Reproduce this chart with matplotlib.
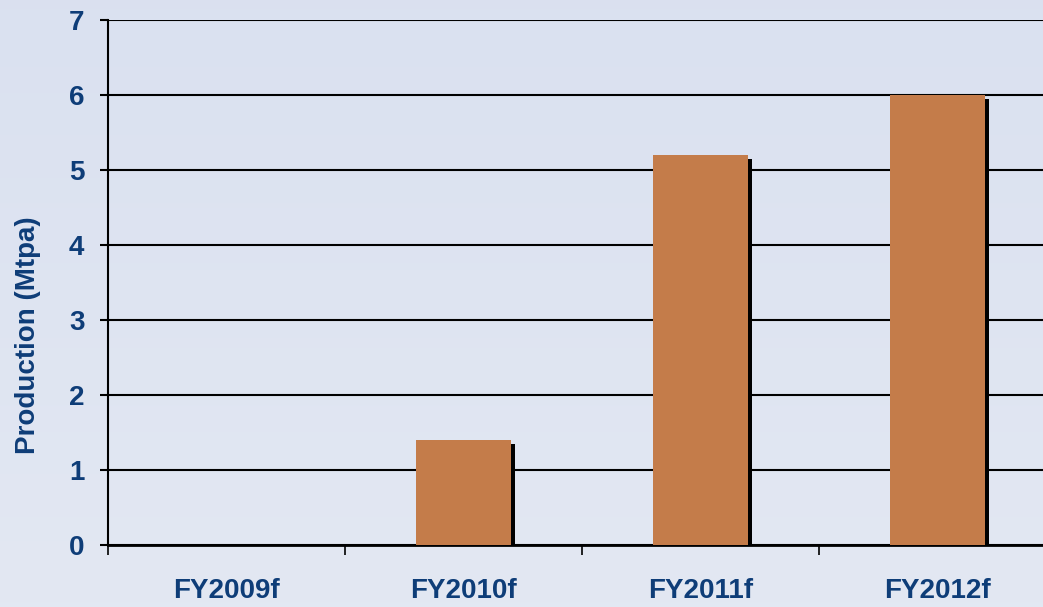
import matplotlib.pyplot as plt
import matplotlib.transforms as mtransforms
import numpy as np

categories = ["FY2009f", "FY2010f", "FY2011f", "FY2012f"]
production = [0.0, 1.4, 5.2, 6.0]
y_ticks = [0, 1, 2, 3, 4, 5, 6, 7]

navy = "#0e3d78"
bar_color = "#c47c4a"
font = ["Liberation Sans", "DejaVu Sans"]

fig = plt.figure(figsize=(10.43, 6.07), dpi=100)

# background gradient
bg = fig.add_axes([0, 0, 1, 1], zorder=-10)
grad = np.linspace(0, 1, 256).reshape(-1, 1)
top = np.array([0.855, 0.882, 0.941])
bottom = np.array([0.890, 0.910, 0.953])
img = top + (bottom - top) * grad[:, :, None]
bg.imshow(img, aspect="auto", extent=[0, 1, 0, 1])
bg.axis("off")

W, H = 1043, 607
ax = fig.add_axes([108 / W, (H - 545) / H, 948 / W, 525 / H])
ax.patch.set_alpha(0)

x = np.arange(len(categories))
shadow = ax.transData + mtransforms.ScaledTranslation(3.5 / 100, -3.5 / 100, fig.dpi_scale_trans)
ax.bar(x, production, width=0.405, color="black", transform=shadow, zorder=2)
ax.bar(x, production, width=0.405, color=bar_color, zorder=3)

ax.set_xlim(-0.5, 3.5)
ax.set_ylim(0, 7)
ax.set_yticks(y_ticks)
ax.yaxis.grid(True, color="black", linewidth=1.5)
ax.set_axisbelow(True)

ax.set_xticks(x)
ax.set_xticklabels(categories)
ax.set_xticks(np.arange(len(categories) + 1) - 0.5, minor=True)
ax.tick_params(axis="x", which="major", length=0, pad=24)
ax.tick_params(axis="x", which="minor", length=7, width=1.2, direction="out")
ax.tick_params(axis="y", length=6, width=1.5, pad=11)

for lab in ax.get_xticklabels() + ax.get_yticklabels():
    lab.set_family(font)
    lab.set_fontweight("bold")
    lab.set_fontsize(20)
    lab.set_color(navy)

for s in ["top", "right"]:
    ax.spines[s].set_visible(False)
ax.spines["left"].set_linewidth(1.5)
ax.spines["bottom"].set_linewidth(2)

ax.set_ylabel("Production (Mtpa)", family=font, fontweight="bold",
              fontsize=20, color=navy)
ax.yaxis.set_label_coords(-0.071, 0.40)

plt.savefig("out.png", dpi=100)
